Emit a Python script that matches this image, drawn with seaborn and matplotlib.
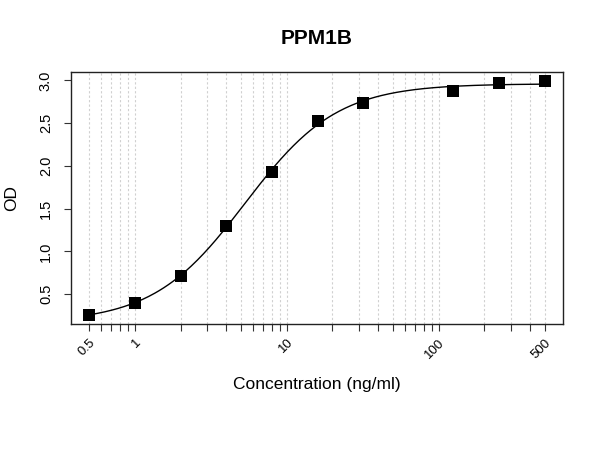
import numpy as np
import pandas as pd
import matplotlib
matplotlib.use("Agg")
import matplotlib.pyplot as plt
import matplotlib.ticker as mticker
import seaborn as sns

# ---- data ----
conc = [0.5, 1, 2, 4, 8, 16, 32, 125, 250, 500]
od = [0.26, 0.40, 0.715, 1.295, 1.935, 2.53, 2.735, 2.875, 2.975, 2.99]
tick_values = [0.5, 1, 10, 100, 500]
tick_labels = ["0.5", "1", "10", "100", "500"]
title = "PPM1B"
xlabel = "Concentration (ng/ml)"
ylabel = "OD"

# ---- 4PL fit (Levenberg-Marquardt in numpy) ----
x = np.array(conc, float)
y = np.array(od, float)


def f4(p, xx):
    a, d, lc, b = p
    return d + (a - d) / (1.0 + (xx / np.exp(lc)) ** b)


p = np.array([y.min(), y.max(), np.log(6.0), 1.5])
lam = 1e-3
for _ in range(500):
    r = y - f4(p, x)
    J = np.zeros((len(x), 4))
    for k in range(4):
        dp = np.zeros(4)
        dp[k] = 1e-6
        J[:, k] = (f4(p + dp, x) - f4(p - dp, x)) / 2e-6
    A = J.T @ J
    g = J.T @ r
    step = np.linalg.solve(A + lam * np.diag(np.diag(A)), g)
    pn = p + step
    if np.sum((y - f4(pn, x)) ** 2) < np.sum(r ** 2):
        p = pn
        lam *= 0.5
    else:
        lam *= 4

xs = np.logspace(np.log10(min(conc)), np.log10(max(conc)), 300)
curve = pd.DataFrame({"x": xs, "y": f4(p, xs)})
pts = pd.DataFrame({"x": conc, "y": od})

# ---- plot ----
sns.set_theme(style="white")
plt.rcParams["font.family"] = ["Liberation Sans", "DejaVu Sans"]
plt.rcParams["text.color"] = "black"
plt.rcParams["axes.labelcolor"] = "black"
plt.rcParams["xtick.color"] = "black"
plt.rcParams["ytick.color"] = "black"

fig = plt.figure(figsize=(6, 4.5), dpi=100)
ax = fig.add_axes([71 / 600, 1 - 324 / 450, (563 - 71) / 600, (324 - 72) / 450])
ax.set_xscale("log")

# minor vertical dotted grid lines
grid_x = [v * 10.0 ** e for e in (-1, 0, 1, 2) for v in range(1, 10)]
grid_x = [g for g in grid_x if 0.45 <= g <= 550]
for gx in grid_x:
    ax.axvline(gx, color="#d0d0d0", lw=0.8, ls=(0, (2, 2)), zorder=0)

sns.lineplot(data=curve, x="x", y="y", color="black", lw=1.0, ax=ax, zorder=2)
sns.scatterplot(data=pts, x="x", y="y", marker="s", s=70, color="black",
                edgecolor="black", linewidth=0, ax=ax, zorder=3)

lx = np.log10(min(conc)), np.log10(max(conc))
ex = 0.04 * (lx[1] - lx[0])
ax.set_xlim(10 ** (lx[0] - ex), 10 ** (lx[1] + ex))
ey = 0.04 * (max(od) - min(od))
ax.set_ylim(min(od) - ey, max(od) + ey)

ax.xaxis.set_major_locator(mticker.FixedLocator(grid_x))
ax.xaxis.set_minor_locator(mticker.NullLocator())
lab_map = dict(zip(tick_values, tick_labels))
ax.set_xticklabels([lab_map.get(g, "") for g in grid_x], rotation=45,
                   ha="right", va="top", rotation_mode="anchor", fontsize=9.5,
                   color="black")
ax.set_yticks([0.5, 1.0, 1.5, 2.0, 2.5, 3.0])
ax.set_yticklabels(["0.5", "1.0", "1.5", "2.0", "2.5", "3.0"], rotation=90,
                   va="center", fontsize=10.5, color="black")
ax.tick_params(axis="both", direction="out", length=5, width=0.8, color="#333333",
               bottom=True, left=True, top=False, right=False)
ax.tick_params(axis="x", pad=4)
ax.tick_params(axis="y", pad=8)
for s in ax.spines.values():
    s.set_color("#222222")
    s.set_linewidth(1.0)

ax.set_xlabel("")
ax.set_ylabel("")
fig.text(317 / 600, 1 - 38 / 450, title, ha="center", va="center",
         fontsize=15, fontweight="bold", color="black")
fig.text(317 / 600, 1 - 385 / 450, xlabel, ha="center", va="center",
         fontsize=12.5, color="black")
fig.text(12 / 600, 1 - 198 / 450, ylabel, ha="center", va="center",
         rotation=90, fontsize=12.5, color="black")

fig.savefig("out.png", dpi=100, facecolor="white")
